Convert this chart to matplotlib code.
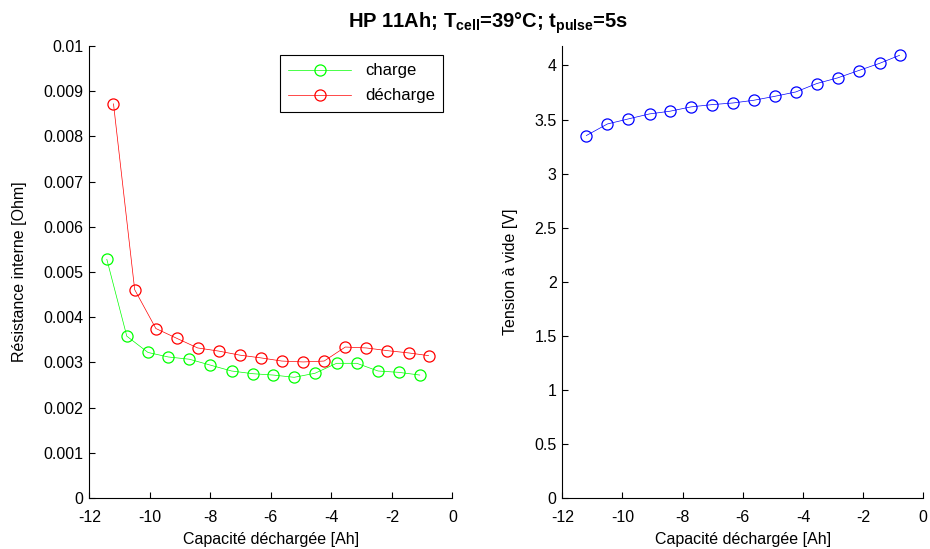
import numpy as np
import matplotlib
matplotlib.use("Agg")
import matplotlib.pyplot as plt
from matplotlib.ticker import FuncFormatter

plt.rcParams['font.family'] = ['Liberation Sans', 'DejaVu Sans']
plt.rcParams['mathtext.fontset'] = 'custom'
plt.rcParams['mathtext.rm'] = 'Liberation Sans'
plt.rcParams['mathtext.bf'] = 'Liberation Sans:bold'
plt.rcParams['axes.unicode_minus'] = False

# capacité déchargée [Ah]
cap_charge = [-11.42, -10.76, -10.06, -9.39, -8.69, -8.00, -7.30, -6.60,
              -5.92, -5.23, -4.54, -3.83, -3.16, -2.46, -1.77, -1.08]
cap_decharge = [-11.20, -10.50, -9.80, -9.10, -8.42, -7.72, -7.02, -6.33,
                -5.64, -4.93, -4.24, -3.54, -2.85, -2.15, -1.45, -0.79]

# résistance interne [Ohm]
r_charge = [0.00528, 0.00358, 0.00322, 0.00312, 0.00307, 0.00294, 0.00281, 0.00275,
            0.00272, 0.00267, 0.00276, 0.00298, 0.00298, 0.00281, 0.00278, 0.00272]
r_decharge = [0.00872, 0.00461, 0.00375, 0.00353, 0.00332, 0.00325, 0.00316, 0.00310,
              0.00303, 0.00301, 0.00303, 0.00334, 0.00332, 0.00326, 0.00321, 0.00315]

# tension à vide [V]
ocv = [3.352, 3.459, 3.506, 3.552, 3.577, 3.617, 3.638, 3.653,
       3.678, 3.715, 3.755, 3.833, 3.885, 3.953, 4.020, 4.094]

fig = plt.figure(figsize=(9.3, 5.49), dpi=100)
ax1 = fig.add_axes([0.096, 0.0929, 0.3905, 0.8233])
ax2 = fig.add_axes([0.6046, 0.0929, 0.3882, 0.8233])

mk = dict(marker='o', mfc='none', markersize=8, markeredgewidth=0.9, linewidth=0.5)
ax1.plot(cap_charge, r_charge, color=(0, 1, 0), label='charge', **mk)
ax1.plot(cap_decharge, r_decharge, color=(1, 0, 0), label='décharge', **mk)
ax2.plot(cap_decharge, ocv, color=(0, 0, 1), **mk)

ax1.set_xlim(-12, 0)
ax1.set_ylim(0, 0.01)
ax1.set_yticks(np.arange(0, 0.0101, 0.001))
ax1.yaxis.set_major_formatter(FuncFormatter(lambda v, p: '%g' % round(v, 4)))
ax1.set_ylabel('Résistance interne [Ohm]', fontsize=11.5, labelpad=12)

ax2.set_xlim(-12, 0)
ax2.set_ylim(0, 4.18)
ax2.set_yticks(np.arange(0, 4.01, 0.5))
ax2.yaxis.set_major_formatter(FuncFormatter(lambda v, p: '%g' % v))
ax2.set_ylabel('Tension à vide [V]', fontsize=11.5, labelpad=12)

for ax in (ax1, ax2):
    ax.set_xticks(range(-12, 1, 2))
    ax.set_xlabel('Capacité déchargée [Ah]', fontsize=11.5, labelpad=5)
    ax.spines['top'].set_visible(False)
    ax.spines['right'].set_visible(False)
    ax.tick_params(direction='in', labelsize=11.5, length=4, width=0.8)
    ax.tick_params(axis='x', pad=9)
    ax.tick_params(axis='y', pad=4)

leg = ax1.legend(loc='upper right', bbox_to_anchor=(0.974, 0.98), borderaxespad=0,
                 fancybox=False, edgecolor='black', fontsize=12, framealpha=1,
                 handlelength=3.8, labelspacing=0.6, borderpad=0.5)
leg.get_frame().set_linewidth(0.8)

fig.text(0.525, 0.957, r'HP 11Ah; T$_{\mathbf{cell}}$=39°C; t$_{\mathbf{pulse}}$=5s',
         ha='center', va='center', fontsize=14.5, fontweight='bold')

fig.savefig('out.png', dpi=100)
